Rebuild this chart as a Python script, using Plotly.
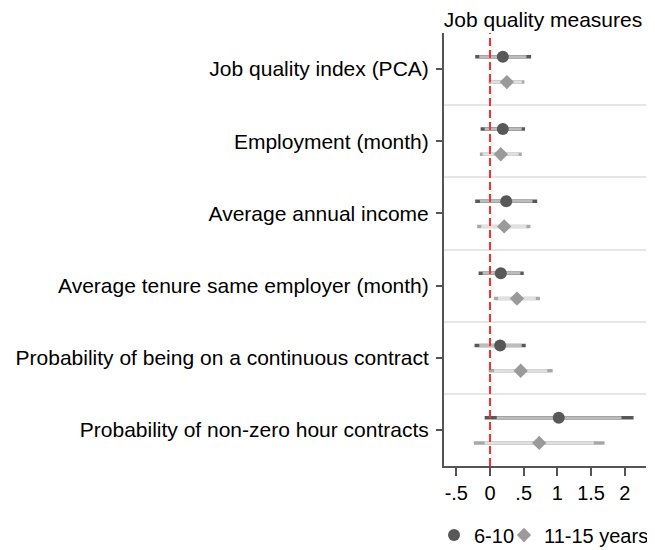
import plotly.graph_objects as go

measures = [
    "Job quality index (PCA)",
    "Employment (month)",
    "Average annual income",
    "Average tenure same employer (month)",
    "Probability of being on a continuous contract",
    "Probability of non-zero hour contracts",
]
series_names = ["6-10", "11-15 years"]

# 6-10 (circles)
est_a = [0.19, 0.19, 0.24, 0.16, 0.15, 1.02]
lo95_a = [-0.22, -0.14, -0.22, -0.17, -0.23, -0.08]
hi95_a = [0.61, 0.52, 0.70, 0.50, 0.53, 2.13]
lo90_a = [-0.16, -0.08, -0.15, -0.11, -0.16, 0.10]
hi90_a = [0.54, 0.47, 0.63, 0.45, 0.47, 1.95]

# 11-15 years (diamonds)
est_b = [0.25, 0.16, 0.21, 0.40, 0.455, 0.73]
lo95_b = [-0.02, -0.15, -0.19, 0.06, -0.02, -0.24]
hi95_b = [0.51, 0.47, 0.60, 0.74, 0.93, 1.70]
lo90_b = [0.015, -0.11, -0.13, 0.12, 0.06, -0.08]
hi90_b = [0.475, 0.425, 0.54, 0.68, 0.85, 1.54]

x_tickvals = [-0.5, 0, 0.5, 1, 1.5, 2]
x_ticktext = ["-.5", "0", ".5", "1", "1.5", "2"]

FONT = "Liberation Sans, Arial, sans-serif"
pos = list(range(1, len(measures) + 1))

# page body has an 8px default margin -> figure drawn 8px smaller
W, H = 647, 542
ML, MR, MT, MB = 436, 9, 25, 84
PW, PH = W - ML - MR, H - MT - MB

fig = go.Figure()

def add_series(est, lo95, hi95, lo90, hi90, off, name, mcol, c95, c90, symbol, size, lw):
    y = [p + off for p in pos]
    # 95% CI
    fig.add_trace(go.Scatter(
        x=est, y=y, mode="markers", marker=dict(size=1, opacity=0),
        error_x=dict(type="data", symmetric=False,
                     array=[h - e for h, e in zip(hi95, est)],
                     arrayminus=[e - l for e, l in zip(est, lo95)],
                     color=c95, thickness=3.5, width=0),
        showlegend=False, hoverinfo="skip"))
    # 90% CI + point
    fig.add_trace(go.Scatter(
        x=est, y=y, mode="markers", name=name,
        marker=dict(size=size, color=mcol, symbol=symbol, line=dict(width=0)),
        error_x=dict(type="data", symmetric=False,
                     array=[h - e for h, e in zip(hi90, est)],
                     arrayminus=[e - l for e, l in zip(est, lo90)],
                     color=c90, thickness=3, width=0),
        showlegend=True, legendwidth=lw))

add_series(est_a, lo95_a, hi95_a, lo90_a, hi90_a, -0.17, series_names[0],
           "#585858", "#585858", "#bcbcbc", "circle", 12, 25)
add_series(est_b, lo95_b, hi95_b, lo90_b, hi90_b, 0.18, series_names[1],
           "#9a9a9a", "#a8a8a8", "#e0e0e0", "diamond", 11, None)

fig.add_vline(x=0, line=dict(color="#ff2a2a", width=2, dash="8px,4px"))

fig.update_layout(
    width=W, height=H,
    margin=dict(l=ML, r=MR, t=MT, b=MB, autoexpand=False),
    paper_bgcolor="white", plot_bgcolor="white",
    font=dict(family=FONT, size=20, color="black"),
    title=dict(text="Job quality measures", x=535 / W, xanchor="center",
               y=1 - 12 / H, yanchor="middle", font=dict(size=21)),
    xaxis=dict(range=[-0.683, 2.315], tickvals=x_tickvals, ticktext=x_ticktext,
               showgrid=False, zeroline=False, showline=True, linecolor="#555555",
               linewidth=2, ticks="outside", ticklen=8, tickwidth=1.5,
               tickcolor="#555555", tickfont=dict(size=20)),
    yaxis=dict(range=[6.5, 0.5], tickvals=pos, ticktext=measures,
               showgrid=False, zeroline=False, showline=True, linecolor="#555555",
               linewidth=2, ticks="outside", ticklen=6, tickwidth=1.5,
               tickcolor="#555555", tickfont=dict(size=21), ticklabelstandoff=3,
               minor=dict(tickvals=[p + 0.5 for p in pos[:-1]], showgrid=True,
                          gridcolor="#e6e6e6", gridwidth=2, ticks="")),
    legend=dict(orientation="h", x=(426 - ML) / PW, xanchor="left",
                y=(H - MB - 527) / PH, yanchor="middle",
                font=dict(size=20), itemwidth=30, bgcolor="rgba(0,0,0,0)"),
)

fig.write_html("out.html")
